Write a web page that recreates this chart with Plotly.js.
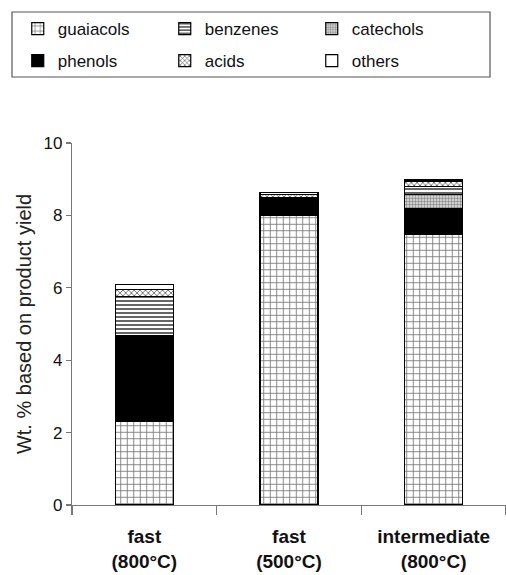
<!DOCTYPE html>
<html><head><meta charset="utf-8">
<script src="https://cdn.plot.ly/plotly-3.0.1.min.js"></script>
<style>html,body{margin:0;padding:0;background:#fff}</style>
</head><body>
<div id="chart" style="width:506px;height:575px"></div>
<script>
const categories = ["fast<br>(800°C)", "fast<br>(500°C)", "intermediate<br>(800°C)"];
const guaiacols = [2.32, 8.00, 7.48];
const phenols   = [2.35, 0.48, 0.70];
const catechols = [0.00, 0.00, 0.40];
const benzenes  = [1.08, 0.00, 0.22];
const acids     = [0.20, 0.10, 0.15];
const others    = [0.15, 0.05, 0.03];

const seriesNames = ["guaiacols", "phenols", "catechols", "benzenes", "acids", "others"];
const seriesValues = [guaiacols, phenols, catechols, benzenes, acids, others];
const styles = {
  guaiacols: {color: "#ffffff", pattern: {shape: "+", fgcolor: "#7a7a7a", bgcolor: "#ffffff", size: 6.5, solidity: 0.25}, legend: "legend", rank: 1},
  benzenes:  {color: "#ffffff", pattern: {shape: "-", fgcolor: "#555555", bgcolor: "#ffffff", size: 4, solidity: 0.45}, legend: "legend", rank: 2},
  catechols: {color: "#ffffff", pattern: {shape: ".", fgcolor: "#8a8a8a", bgcolor: "#e6e6e6", size: 3, solidity: 0.5}, legend: "legend", rank: 3},
  phenols:   {color: "#000000", pattern: null, legend: "legend2", rank: 4},
  acids:     {color: "#ffffff", pattern: {shape: "x", fgcolor: "#555555", bgcolor: "#ffffff", size: 4, solidity: 0.35}, legend: "legend2", rank: 5},
  others:    {color: "#ffffff", pattern: null, legend: "legend2", rank: 6}
};

const traces = seriesNames.map((n, i) => {
  const s = styles[n];
  const marker = {color: s.color, line: {color: "#000", width: 1.2}};
  if (s.pattern) marker.pattern = s.pattern;
  return {
    type: "bar", name: n, x: categories, y: seriesValues[i],
    width: 0.4, marker: marker, legend: s.legend, legendrank: s.rank,
    hoverinfo: "skip"
  };
});

const legendBase = {
  orientation: "h", x: -0.125, xanchor: "left", yanchor: "middle",
  entrywidth: 102, entrywidthmode: "pixels",
  font: {size: 17, color: "#111"}, bgcolor: "rgba(0,0,0,0)", borderwidth: 0,
  traceorder: "normal", itemclick: false, itemdoubleclick: false
};

const layout = {
  width: 506, height: 575,
  margin: {l: 72, r: 0, t: 143, b: 70},
  paper_bgcolor: "#fff", plot_bgcolor: "#fff",
  barmode: "stack",
  font: {family: "Liberation Sans, Arial, sans-serif", color: "#111"},
  xaxis: {
    type: "category", range: [-0.5, 2.5],
    showline: true, linecolor: "#777", linewidth: 1.2,
    ticks: "outside", tickson: "boundaries", ticklen: 9, tickcolor: "#777", tickwidth: 1.2,
    tickfont: {size: 19, family: "Liberation Sans, Arial, sans-serif", color: "#111", weight: "bold"},
    ticklabelstandoff: 14,
    showgrid: false, zeroline: false, fixedrange: true
  },
  yaxis: {
    range: [0, 10], dtick: 2,
    showline: true, linecolor: "#777", linewidth: 1.2,
    ticks: "outside", ticklen: 5, tickcolor: "#777", tickwidth: 1.2,
    tickfont: {size: 17, color: "#111"},
    showgrid: false, zeroline: false,
    title: {text: "Wt. % based on product yield", font: {size: 20, color: "#222"}, standoff: 6}
  },
  legend: Object.assign({}, legendBase, {y: 1 + (143 - 29) / 362}),
  legend2: Object.assign({}, legendBase, {y: 1 + (143 - 61) / 362}),
  shapes: [{
    type: "rect", xref: "paper", yref: "paper",
    x0: (12 - 72) / 434, x1: (490 - 72) / 434,
    y0: 1 + (143 - 77) / 362, y1: 1 + (143 - 12) / 362,
    line: {color: "#555", width: 1.2}, fillcolor: "rgba(0,0,0,0)"
  }]
};

Plotly.newPlot("chart", traces, layout, {displayModeBar: false, staticPlot: true});
</script>
</body></html>
